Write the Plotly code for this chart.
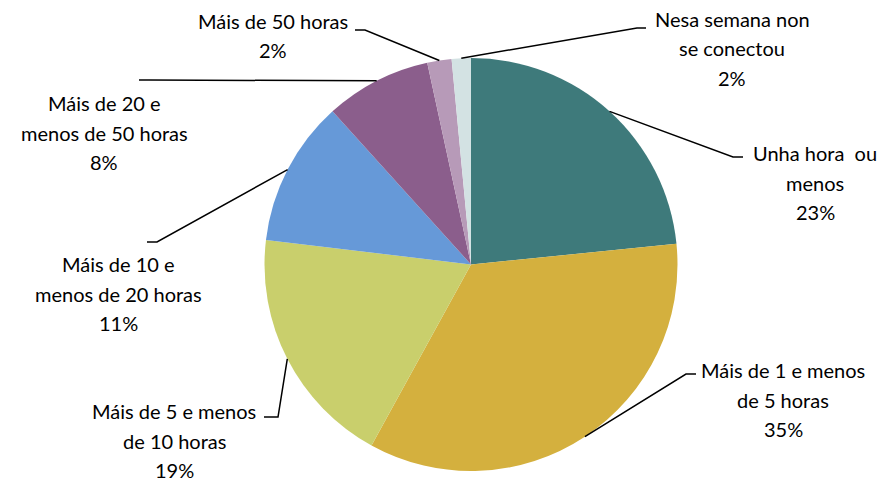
import math
import plotly.graph_objects as go

# ---- data ----
categories = [
    "Unha hora ou menos",
    "Máis de 1 e menos de 5 horas",
    "Máis de 5 e menos de 10 horas",
    "Máis de 10 e menos de 20 horas",
    "Máis de 20 e menos de 50 horas",
    "Máis de 50 horas",
    "Nesa semana non se conectou",
]
values = [23.4, 34.6, 18.9, 11.4, 8.3, 1.9, 1.5]
label_lines = [
    ["Unha hora  ou", "menos"],
    ["Máis de 1 e menos", "de 5 horas"],
    ["Máis de 5 e menos", "de 10 horas"],
    ["Máis de 10 e", "menos de 20 horas"],
    ["Máis de 20 e", "menos de 50 horas"],
    ["Máis de 50 horas"],
    ["Nesa semana non", "se conectou"],
]

# ---- styles / layout (pixels) ----
colors = ["#3E7A7B", "#D4B03E", "#C9CF6C", "#6699D8", "#8B5E8C", "#B79AB8", "#D3E2E3"]
W, H = 880, 483
cx, cy, R = 471, 264.5, 206.5
# label centre x, first line centre y
label_pos = [(815, 153), (783, 370), (174, 411), (118, 264), (104, 103), (273, 21), (732, 19)]
# elbow point and stub end of leader lines
leaders = [
    ((733, 157), (743, 157)),
    ((686, 374), (696, 374)),
    ((278, 417), (264, 417)),
    ((157, 242), (147, 242)),
    ((149, 80), (139, 80)),
    ((365, 30), (355, 30)),
    ((637, 28), (646, 28)),
]
LINE_GAP = 29.5
FONT = dict(family="Lato, 'Open Sans', sans-serif", size=20, color="#000000")


def px(x):
    return x / W


def py(y):
    return 1 - y / H


fig = go.Figure(
    go.Pie(
        labels=categories,
        values=values,
        sort=False,
        direction="clockwise",
        rotation=0,
        marker=dict(colors=colors, line=dict(width=0)),
        textinfo="none",
        hoverinfo="label+percent",
        showlegend=False,
        domain=dict(x=[px(cx - R), px(cx + R)], y=[py(cy + R), py(cy - R)]),
    )
)

total = sum(values)
annotations = []
shapes = []
cum = 0.0
for i, v in enumerate(values):
    mid = (cum + v / 2) / total * 2 * math.pi
    cum += v
    ex = cx + R * math.sin(mid)
    ey = cy - R * math.cos(mid)
    (bx, by), (sx, sy) = leaders[i]
    path = f"M {px(ex)} {py(ey)} L {px(bx)} {py(by)} L {px(sx)} {py(sy)}"
    shapes.append(dict(type="path", xref="paper", yref="paper", path=path,
                       line=dict(color="#000000", width=1.5)))
    lx, ly = label_pos[i]
    lines = label_lines[i] + [f"{round(v / total * 100):.0f}%"]
    for k, t in enumerate(lines):
        annotations.append(dict(
            x=px(lx), y=py(ly + k * LINE_GAP), xref="paper", yref="paper",
            text=t, showarrow=False, xanchor="center", yanchor="middle",
            font=FONT,
        ))

fig.update_layout(
    width=W, height=H,
    margin=dict(l=0, r=0, t=0, b=0),
    paper_bgcolor="white",
    plot_bgcolor="white",
    annotations=annotations,
    shapes=shapes,
)

fig.write_html(
    "out.html",
    config={"displayModeBar": False},
    post_script="document.body.style.margin='0';document.body.style.overflow='hidden';",
)
